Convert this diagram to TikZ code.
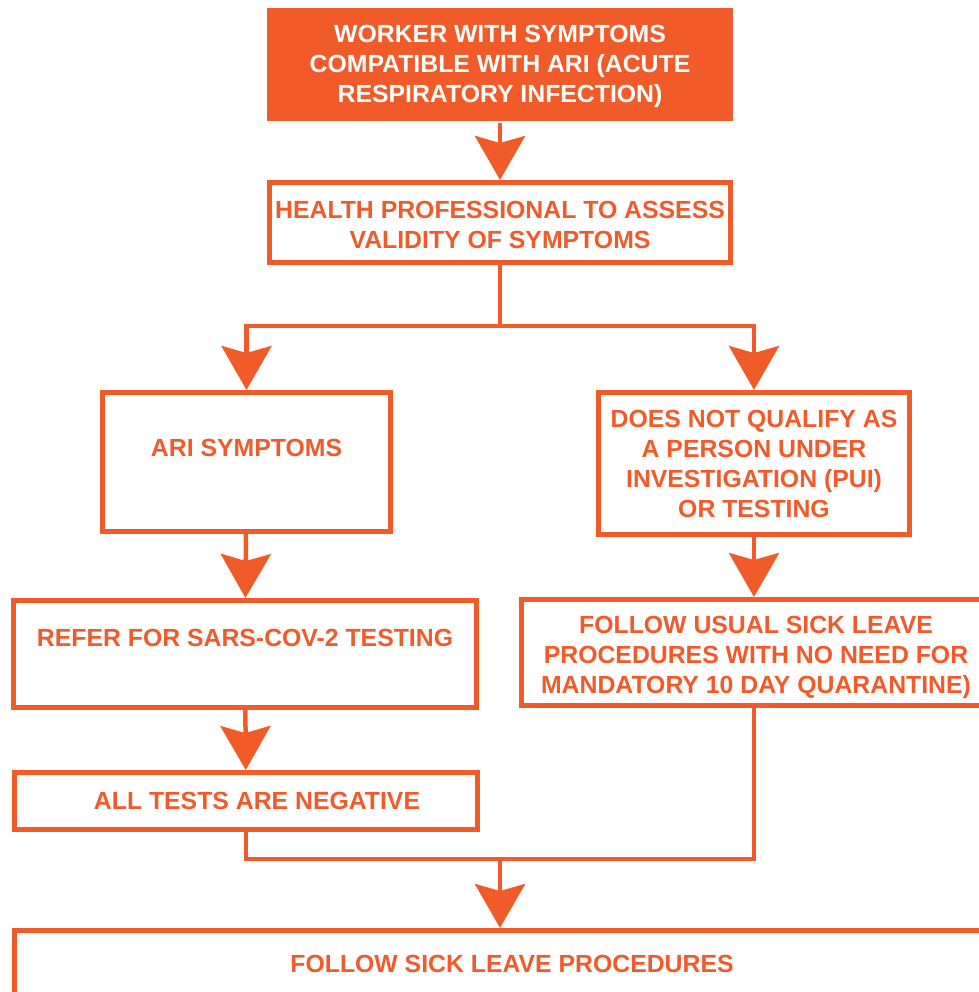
\documentclass[tikz,border=0pt]{standalone}
\usepackage{fontspec}
\setmainfont{Liberation Sans}
\usetikzlibrary{arrows.meta}
\definecolor{ariorange}{RGB}{241,90,41}
\tikzset{
  box/.style={draw=ariorange, line width=5pt, fill=white, text=ariorange,
    inner sep=0pt, align=center, font=\fontsize{24.8}{30}\selectfont\bfseries},
  flow/.style={draw=ariorange, line width=4.5pt,
    -{Stealth[length=44pt,width=50pt,inset=7pt]}},
  link/.style={draw=ariorange, line width=4.5pt}
}
\begin{document}
\begin{tikzpicture}[x=1pt,y=-1pt]
      \useasboundingbox (0,0) rectangle (978,992);
      \node[box, draw=none, fill=ariorange, text=white, minimum width=466pt, minimum height=113pt]
        (worker) at (500,64.5) {\rule{0pt}{22pt}WORKER WITH SYMPTOMS\\COMPATIBLE WITH ARI (ACUTE\\RESPIRATORY INFECTION)};
      \node[box, minimum width=461pt, minimum height=80pt]
        (prof) at (500,222.5) {\rule{0pt}{22pt}HEALTH PROFESSIONAL TO ASSESS\\VALIDITY OF SYMPTOMS};
      \node[box, minimum width=288pt, minimum height=139pt]
        (ari) at (246.5,462) {\rule{0pt}{27pt}ARI SYMPTOMS\\\strut};
      \node[box, minimum width=311pt, minimum height=142pt]
        (pui) at (754,463.5) {DOES NOT QUALIFY AS\\A PERSON UNDER\\INVESTIGATION (PUI)\\OR TESTING};
      \node[box, minimum width=463pt, minimum height=107pt]
        (refer) at (245,654) {\rule{0pt}{24pt}REFER FOR SARS-COV-2 TESTING\\\strut};
      \node[box, minimum width=469pt, minimum height=106pt]
        (usual) at (756,652.5) {\rule{0pt}{28pt}FOLLOW USUAL SICK LEAVE\\PROCEDURES WITH NO NEED FOR\\MANDATORY 10 DAY QUARANTINE)};
      \node[box, minimum width=463pt, minimum height=57pt]
        (neg) at (246,801) {\hspace*{22pt}ALL TESTS ARE NEGATIVE};
      \node[box, minimum width=995pt, minimum height=67pt]
        (final) at (512,964) {FOLLOW SICK LEAVE PROCEDURES};
      \coordinate (split) at (500,326);
      \coordinate (join) at (500,859);
      \begin{scope}
        \draw[flow] (worker) to (prof);
        \draw[link] (prof.south) to (split);
        \draw[flow] (split) -| (ari.north);
        \draw[flow] (split) -| (pui.north);
        \draw[flow] (ari) to (refer);
        \draw[flow] (refer) to (neg);
        \draw[flow] (pui.south) to (pui.south |- usual.north);
        \draw[link] (neg.south) |- (join) -| (pui.south |- usual.south);
        \draw[flow] (join) to (join |- final.north);
      \end{scope}
    \end{tikzpicture}
\end{document}
